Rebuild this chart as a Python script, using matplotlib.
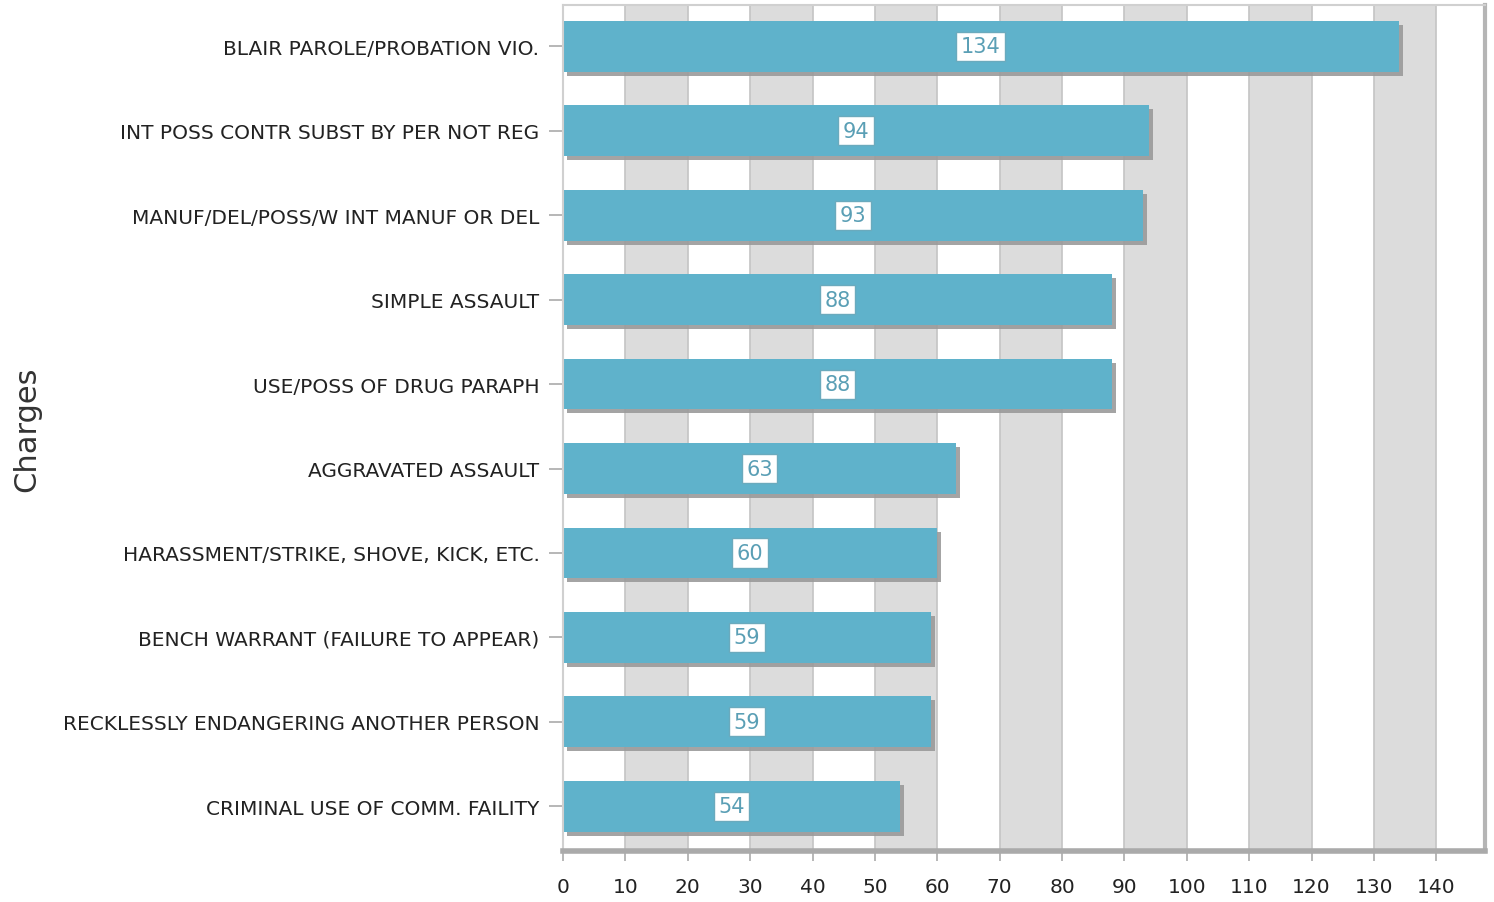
import matplotlib
matplotlib.use("Agg")
import matplotlib.pyplot as plt
import matplotlib.transforms as mtransforms

categories = [
    "BLAIR PAROLE/PROBATION VIO.",
    "INT POSS CONTR SUBST BY PER NOT REG",
    "MANUF/DEL/POSS/W INT MANUF OR DEL",
    "SIMPLE ASSAULT",
    "USE/POSS OF DRUG PARAPH",
    "AGGRAVATED ASSAULT",
    "HARASSMENT/STRIKE, SHOVE, KICK, ETC.",
    "BENCH WARRANT (FAILURE TO APPEAR)",
    "RECKLESSLY ENDANGERING ANOTHER PERSON",
    "CRIMINAL USE OF COMM. FAILITY",
]
values = [134, 94, 93, 88, 88, 63, 60, 59, 59, 54]
xticks = list(range(0, 141, 10))

fig = plt.figure(figsize=(14.94, 9.03), dpi=100)
ax = fig.add_axes([563/1494, 1-852/903, (1485-563)/1494, (852-6)/903])

n = len(categories)
ypos = [n - 1 - i for i in range(n)]
xmax = 147.8
ax.set_xlim(0, xmax)
ax.set_ylim(-0.53, 9.49)

# alternating bands
for k in range(0, 140, 10):
    if (k // 10) % 2 == 1:
        ax.axvspan(k, k + 10, color="#dcdcdc", zorder=0, lw=0)
for k in xticks[1:]:
    ax.axvline(k, color="#c4c4c4", lw=1.2, zorder=0.5)

h = 0.6
shadow = mtransforms.offset_copy(ax.transData, fig=fig, x=4, y=-4, units="dots")
for y, v in zip(ypos, values):
    ax.barh(y, v, height=h, color="#9a9a9a", transform=shadow, zorder=1, alpha=0.9)
bars = ax.barh(ypos, values, height=h, color="#5fb2cb", zorder=2)
for y, v in zip(ypos, values):
    ax.text(v / 2, y, str(v), ha="center", va="center", fontsize=15,
            family="DejaVu Sans", color="#5a9fb5", zorder=3,
            bbox=dict(boxstyle="square,pad=0.22", fc="white", ec="#6aaabd", lw=1))

ax.set_yticks(ypos)
ax.set_yticklabels(categories, fontsize=14.5, color="#222222")
ax.set_xticks(xticks)
ax.set_xticklabels([str(t) for t in xticks], fontsize=14.5, color="#222222")
ax.tick_params(axis="y", length=10, width=1.2, color="#aaaaaa", pad=7)
ax.tick_params(axis="x", length=7, width=1.2, color="#aaaaaa", pad=12)

for s in ["top", "right", "left", "bottom"]:
    ax.spines[s].set_color("#d0d0d0")
    ax.spines[s].set_linewidth(1.5)
ax.spines["bottom"].set_color("#aaaaaa")
ax.spines["bottom"].set_linewidth(4)
ax.spines["right"].set_color("#b5b5b5")
ax.spines["right"].set_linewidth(3)

ax.set_ylabel("Charges", fontsize=22, color="#333333")
ax.yaxis.set_label_coords(-0.566, 0.5)

fig.savefig("out.png", dpi=100)
